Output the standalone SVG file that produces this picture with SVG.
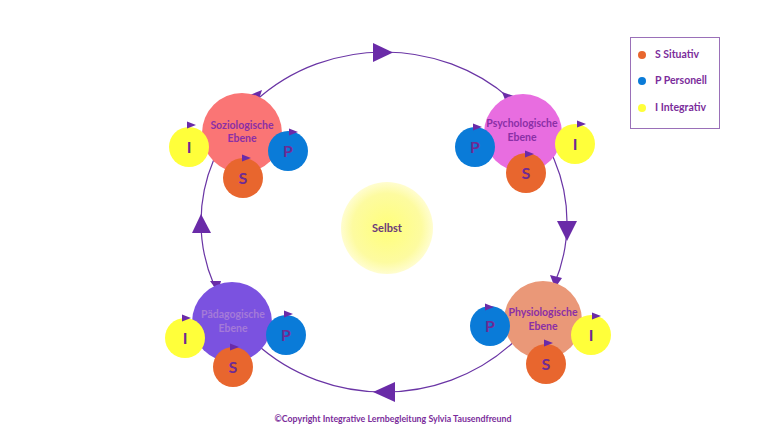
<svg xmlns="http://www.w3.org/2000/svg" width="768" height="432" viewBox="0 0 768 432">
<defs>
<style>
.lbl{font-family:Lato,"Open Sans","Liberation Sans",sans-serif;font-size:10.5px;fill:#8A2FA6;text-anchor:middle;font-weight:bold}
.let{font-family:Lato,"Open Sans","Liberation Sans",sans-serif;font-size:16px;fill:#6E2A95;text-anchor:middle;font-weight:bold}
.leg{font-family:Lato,"Open Sans","Liberation Sans",sans-serif;font-size:10.5px;fill:#7B2D9B;font-weight:bold}
.ring{fill:none;stroke:#6A35A5;stroke-width:1.2}
.tri{fill:#6A2BA8}
.S{fill:#E8662E}.P{fill:#0A7BD8}.I{fill:#FFFF3A}
</style>
<radialGradient id="selbst" cx="0.5" cy="0.5" r="0.5">
<stop offset="0" stop-color="#FFFF7A"/>
<stop offset="0.75" stop-color="#FDFBA0"/>
<stop offset="1" stop-color="#FFFDD0"/>
</radialGradient>
<path id="sm" d="M-4,-3.5 L5,0 L-4,3.5 Z"/>
</defs>
<rect width="768" height="432" fill="#FFFFFF"/>
<g id="connectors">
<ellipse class="ring" cx="384" cy="222" rx="183" ry="170"/>
<polygon class="tri" points="373,43 393,52.5 373,62"/>
<polygon class="tri" points="557,221 577,221 567,241"/>
<polygon class="tri" points="395,382 395,402 373,392"/>
<polygon class="tri" points="192,233 211,233 201,214"/>
<polygon class="tri" points="250,95 262,90 258,102" />
<polygon class="tri" points="502,92 514,96 507,105"/>
<polygon class="tri" points="550,275 562,278 555,288"/>
<polygon class="tri" points="210,281 221,281 218,292"/>
</g>
<g id="selbst-node">
<circle cx="387" cy="228" r="46" fill="url(#selbst)"/>
<text x="387" y="232" class="lbl" style="fill:#6B3A7A;font-size:11px">Selbst</text>
</g>
<g id="soziologische">
<circle cx="242" cy="133" r="40" fill="#FA7575"/>
<text x="242" y="129" class="lbl">Soziologische</text>
<text x="242" y="142" class="lbl">Ebene</text>
</g>
<g id="soz-I"><circle cx="189" cy="147" r="20" class="I"/><text x="189" y="153" class="let">I</text><use href="#sm" x="191" y="125" class="tri"/></g>
<g id="soz-P"><circle cx="288" cy="151" r="20" class="P"/><text x="288" y="157" class="let">P</text><use href="#sm" x="293" y="132" class="tri"/></g>
<g id="soz-S"><circle cx="243" cy="178" r="20" class="S"/><text x="243" y="184" class="let">S</text><use href="#sm" x="246" y="158" class="tri"/></g>

<g id="psychologische">
<circle cx="523" cy="133" r="39" fill="#E86DE0"/>
<text x="522" y="127" class="lbl">Psychologische</text>
<text x="522" y="141" class="lbl">Ebene</text>
</g>
<g id="psy-P"><circle cx="475" cy="147" r="20" class="P"/><text x="475" y="153" class="let">P</text><use href="#sm" x="477" y="127" class="tri"/></g>
<g id="psy-S"><circle cx="526" cy="173" r="20" class="S"/><text x="526" y="179" class="let">S</text><use href="#sm" x="529" y="154" class="tri"/></g>
<g id="psy-I"><circle cx="575" cy="144" r="20" class="I"/><text x="575" y="150" class="let">I</text><use href="#sm" x="581" y="124" class="tri"/></g>

<g id="physiologische">
<circle cx="543" cy="320" r="39" fill="#EA9878"/>
<text x="543" y="316" class="lbl">Physiologische</text>
<text x="543" y="330" class="lbl">Ebene</text>
</g>
<g id="phy-P"><circle cx="490" cy="326" r="20" class="P"/><text x="490" y="332" class="let">P</text><use href="#sm" x="489" y="307" class="tri"/></g>
<g id="phy-S"><circle cx="546" cy="364" r="20" class="S"/><text x="546" y="370" class="let">S</text><use href="#sm" x="548" y="343" class="tri"/></g>
<g id="phy-I"><circle cx="591" cy="335" r="20" class="I"/><text x="591" y="341" class="let">I</text><use href="#sm" x="596" y="316" class="tri"/></g>

<g id="paedagogische">
<circle cx="232" cy="322" r="40" fill="#7B52E0"/>
<text x="233" y="318" class="lbl" style="fill:#A47AD8">Pädagogische</text>
<text x="233" y="332" class="lbl" style="fill:#A47AD8">Ebene</text>
</g>
<g id="pae-I"><circle cx="185" cy="338" r="20" class="I"/><text x="185" y="344" class="let">I</text><use href="#sm" x="186" y="318" class="tri"/></g>
<g id="pae-S"><circle cx="233" cy="367" r="20" class="S"/><text x="233" y="373" class="let">S</text><use href="#sm" x="234" y="347" class="tri"/></g>
<g id="pae-P"><circle cx="286" cy="335" r="20" class="P"/><text x="286" y="341" class="let">P</text><use href="#sm" x="288" y="314" class="tri"/></g>

<g id="legend">
<rect x="630.5" y="37.5" width="89" height="91" fill="#FFFFFF" stroke="#9A70B8" stroke-width="1"/>
<circle cx="642" cy="55" r="4" class="S"/>
<text x="655" y="58" class="leg">S Situativ</text>
<circle cx="642" cy="81" r="4" class="P"/>
<text x="655" y="84" class="leg">P Personell</text>
<circle cx="642" cy="108" r="4" class="I"/>
<text x="655" y="111" class="leg">I Integrativ</text>
</g>
<text x="393" y="422" class="lbl" style="font-size:9.5px;fill:#7B2D9B" textLength="237" lengthAdjust="spacingAndGlyphs">©Copyright Integrative Lernbegleitung Sylvia Tausendfreund</text>
</svg>
